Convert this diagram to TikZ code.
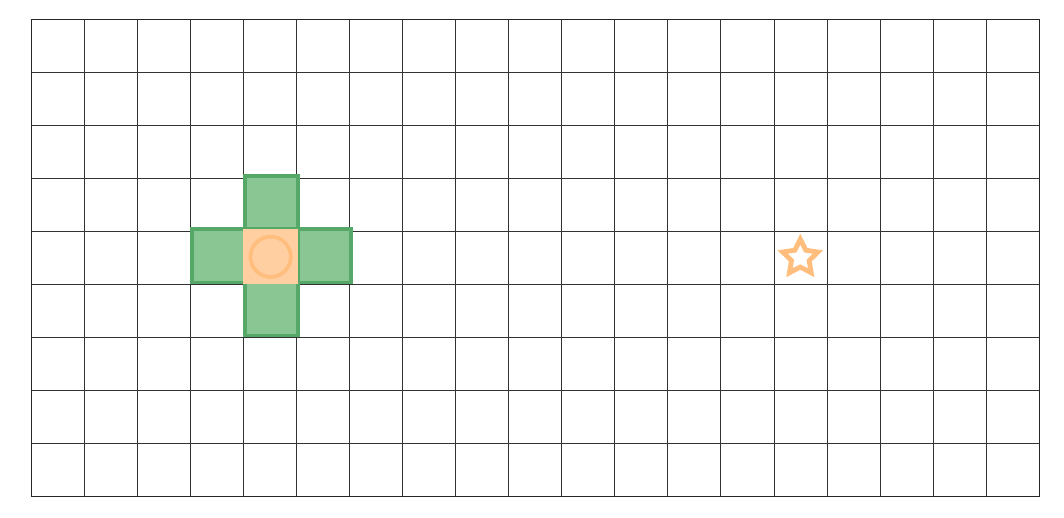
\documentclass[tikz,border=0pt]{standalone}
\usepackage{tikz}
\usetikzlibrary{shapes.geometric}

\definecolor{wallgreen}{HTML}{55A868}
\definecolor{cellgreen}{HTML}{8AC594}
\definecolor{agentorange}{HTML}{FFBE7D}
\definecolor{cellorange}{HTML}{FFCFA1}

\begin{document}
\begin{tikzpicture}[x=1cm,y=1cm,
      cell/.style={draw=wallgreen,fill=cellgreen,line width=2pt,
        minimum size=1cm,inner sep=0pt,anchor=south west},
      home/.style={draw=cellorange,fill=cellorange,line width=1pt,
        minimum size=1cm,inner sep=0pt,anchor=south west},
      agent/.style={circle,draw=agentorange,fill=cellorange,line width=2pt,
        minimum size=0.76cm,inner sep=0pt},
      goal/.style={star,star points=5,star point ratio=2.0,draw=agentorange,
        line width=2.6pt,minimum size=0.7cm,inner sep=0pt}]

    \useasboundingbox (-0.584,-0.396) rectangle (19.47,9.358);

    % grid
    \foreach \i in {1,...,18}
      \draw[line width=0.3pt,black!80] (\i,0) -- (\i,9);
    \foreach \j in {1,...,8}
      \draw[line width=0.3pt,black!80] (0,\j) -- (19,\j);
    \draw[line width=0.5pt,black!85] (0,0) rectangle (19,9);

    % neighbours
    \node[cell] (up) at (4,5) {};
    \node[cell] (left) at (3,4) {};
    \node[cell] (right) at (5,4) {};
    \node[cell] (down) at (4,3) {};
    \node[home] (center) at (4,4) {};

    \node[agent] (a) at (center.center) {};
    \node[goal] (g) at (14.5,4.5) {};
  \end{tikzpicture}
\end{document}
